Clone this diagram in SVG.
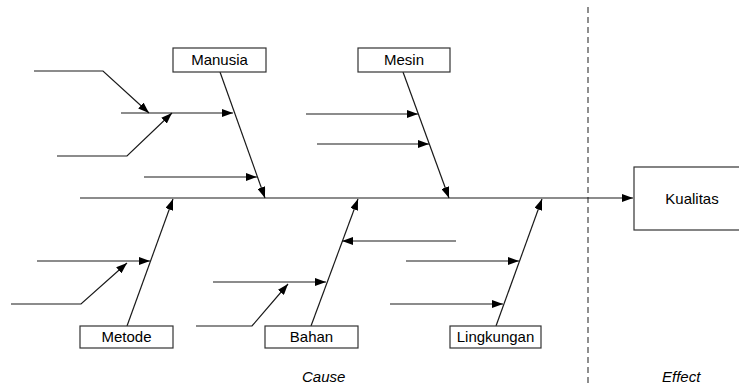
<svg xmlns="http://www.w3.org/2000/svg" width="739" height="385" viewBox="0 0 739 385">
<style>
.ln{stroke:#1a1a1a;stroke-width:1.2;fill:none}
.box{fill:#fff;stroke:#333;stroke-width:1.2}
.lbl{font-family:"Liberation Sans",Arial,sans-serif;font-size:15px;fill:#000;text-anchor:middle}
.cap{font-family:"Liberation Sans",Arial,sans-serif;font-size:15px;font-style:italic;fill:#000}
</style>
<defs>
<marker id="ah" markerUnits="userSpaceOnUse" markerWidth="11" markerHeight="8" refX="11" refY="4" orient="auto">
<path d="M0,0 L11,4 L0,8 z" fill="#000"/>
</marker>
</defs>
<line x1="588" y1="7" x2="588" y2="385" stroke="#444" stroke-width="1.2" stroke-dasharray="6,4"/>
<g id="connectors">
<line class="ln" x1="80" y1="198" x2="633" y2="198" marker-end="url(#ah)"/>
<line class="ln" x1="220" y1="72" x2="265" y2="198" marker-end="url(#ah)"/>
<line class="ln" x1="121" y1="113" x2="233" y2="113" marker-end="url(#ah)"/>
<polyline class="ln" points="34,71 103,71 149,113" marker-end="url(#ah)"/>
<polyline class="ln" points="57,156 127,156 172,113" marker-end="url(#ah)"/>
<line class="ln" x1="144" y1="177" x2="257" y2="177" marker-end="url(#ah)"/>
<line class="ln" x1="403" y1="72" x2="449" y2="198" marker-end="url(#ah)"/>
<line class="ln" x1="306" y1="114" x2="418" y2="114" marker-end="url(#ah)"/>
<line class="ln" x1="317" y1="144" x2="429" y2="144" marker-end="url(#ah)"/>
<line class="ln" x1="127" y1="326" x2="173" y2="199" marker-end="url(#ah)"/>
<line class="ln" x1="37" y1="261" x2="150" y2="261" marker-end="url(#ah)"/>
<polyline class="ln" points="11,304 81,304 127,263" marker-end="url(#ah)"/>
<line class="ln" x1="311" y1="326" x2="358" y2="199" marker-end="url(#ah)"/>
<line class="ln" x1="213" y1="282" x2="326" y2="282" marker-end="url(#ah)"/>
<polyline class="ln" points="196,326 252,326 288,284" marker-end="url(#ah)"/>
<line class="ln" x1="456" y1="241" x2="342" y2="241" marker-end="url(#ah)"/>
<line class="ln" x1="496" y1="326" x2="542" y2="199" marker-end="url(#ah)"/>
<line class="ln" x1="406" y1="261" x2="519" y2="261" marker-end="url(#ah)"/>
<line class="ln" x1="390" y1="304" x2="503" y2="304" marker-end="url(#ah)"/>
</g>
<g id="manusia"><rect class="box" x="173" y="48" width="93" height="24"/><text class="lbl" x="219.5" y="65">Manusia</text></g>
<g id="mesin"><rect class="box" x="358" y="48" width="92" height="24"/><text class="lbl" x="404" y="65">Mesin</text></g>
<g id="metode"><rect class="box" x="80" y="326" width="93" height="22"/><text class="lbl" x="126.5" y="342">Metode</text></g>
<g id="bahan"><rect class="box" x="265" y="326" width="93" height="22"/><text class="lbl" x="311.5" y="342">Bahan</text></g>
<g id="lingkungan"><rect class="box" x="450" y="326" width="91" height="22"/><text class="lbl" x="495.5" y="342">Lingkungan</text></g>
<g id="kualitas"><rect class="box" x="634" y="167" width="120" height="63"/><text class="lbl" x="692" y="204">Kualitas</text></g>
<g id="captions"><text class="cap" x="302" y="382">Cause</text><text class="cap" x="662" y="382">Effect</text></g>
</svg>
